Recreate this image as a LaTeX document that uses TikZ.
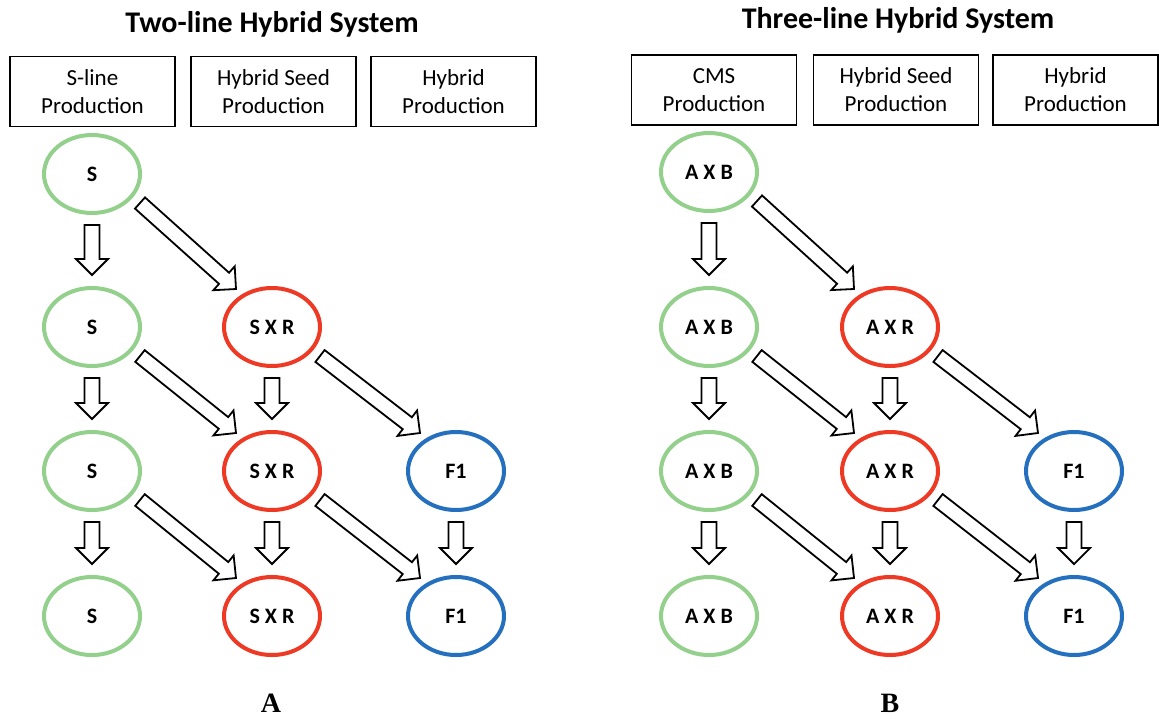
\documentclass[tikz,border=0pt]{standalone}
\usepackage{fontspec}
\setmainfont{Carlito}
\newfontfamily\serifletter{Liberation Serif}
\usetikzlibrary{calc,shapes.geometric}

\definecolor{sgreen}{RGB}{146,208,140}
\definecolor{sred}{RGB}{238,58,36}
\definecolor{sblue}{RGB}{36,112,190}

\tikzset{
  hdr/.style={draw=black, line width=1.5pt, minimum width=165pt, minimum height=70pt,
    inner sep=0pt, align=center, font=\fontsize{23}{28}\selectfont},
  ttl/.style={font=\fontsize{30}{34}\selectfont\bfseries},
  oval/.style={ellipse, line width=4pt, minimum width=96pt, minimum height=78pt,
    inner sep=0pt, font=\fontsize{22}{26}\selectfont\bfseries},
  gr/.style={oval, draw=sgreen},
  rd/.style={oval, draw=sred},
  bl/.style={oval, draw=sblue},
  barrow/.style={draw=black, line width=1.8pt, fill=white, line join=miter},
  letter/.style={anchor=base, font=\fontsize{28}{32}\selectfont\serifletter\bfseries},
}

% block arrow from #1 to #2 (tip at #2)
\newcommand{\barrow}[2]{%
  \draw[barrow] let \p1=(#1), \p2=(#2),
     \n1={atan2(\y2-\y1,\x2-\x1)}, \n2={veclen(\x2-\x1,\y2-\y1)-16} in
    ($(\p1)+(\n1+90:7.5pt)$) -- ($(\p1)+(\n1:\n2)+(\n1+90:7.5pt)$)
    -- ($(\p1)+(\n1:\n2)+(\n1+90:16pt)$) -- (\p2)
    -- ($(\p1)+(\n1:\n2)+(\n1-90:16pt)$) -- ($(\p1)+(\n1:\n2)+(\n1-90:7.5pt)$)
    -- ($(\p1)+(\n1-90:7.5pt)$) -- cycle;}
\newcommand{\vbarrow}[2]{\barrow{$(#1.south)+(0,10)$}{$(#2.north)+(0,-11)$}}
\newcommand{\dbarrow}[2]{\barrow{$(#1)+(48,29)$}{$(#2)+(-36,-38)$}}

\begin{document}
\begin{tikzpicture}[x=1pt, y=-1pt]
\useasboundingbox (0,0) rectangle (1159,718);
\fill[white] (0,0) rectangle (1159,718);

% ---------- Left panel ----------
\node[ttl] (ltitle) at (272,24) {Two-line Hybrid System};
\node[hdr] (lh1) at (92.5,91.5) {S-line\\Production};
\node[hdr] (lh2) at (273.5,91.5) {Hybrid Seed\\Production};
\node[hdr] (lh3) at (453.5,91.5) {Hybrid\\Production};

\node[gr] (lA1) at (92,174) {S};
\node[gr] (lA2) at (92,327) {S};
\node[gr] (lA3) at (92,471) {S};
\node[gr] (lA4) at (92,616) {S};
\node[rd] (lB2) at (272,327) {S X R};
\node[rd] (lB3) at (272,471) {S X R};
\node[rd] (lB4) at (272,616) {S X R};
\node[bl] (lC3) at (456,471) {F1};
\node[bl] (lC4) at (456,616) {F1};

\vbarrow{lA1}{lA2}
\vbarrow{lA2}{lA3}
\vbarrow{lA3}{lA4}
\vbarrow{lB2}{lB3}
\vbarrow{lB3}{lB4}
\vbarrow{lC3}{lC4}
\dbarrow{lA1}{lB2}
\dbarrow{lA2}{lB3}
\dbarrow{lA3}{lB4}
\dbarrow{lB2}{lC3}
\dbarrow{lB3}{lC4}

\node[letter] (la) at (271,712) {A};

% ---------- Right panel ----------
\node[ttl] (rtitle) at (898,20) {Three-line Hybrid System};
\node[hdr] (rh1) at (714,90) {CMS\\Production};
\node[hdr] (rh2) at (896,90) {Hybrid Seed\\Production};
\node[hdr] (rh3) at (1075.5,90) {Hybrid\\Production};

\node[gr] (rA1) at (709,172) {A X B};
\node[gr] (rA2) at (709,327) {A X B};
\node[gr] (rA3) at (709,471) {A X B};
\node[gr] (rA4) at (709,616) {A X B};
\node[rd] (rB2) at (890,327) {A X R};
\node[rd] (rB3) at (890,471) {A X R};
\node[rd] (rB4) at (890,616) {A X R};
\node[bl] (rC3) at (1074,471) {F1};
\node[bl] (rC4) at (1074,616) {F1};

\vbarrow{rA1}{rA2}
\vbarrow{rA2}{rA3}
\vbarrow{rA3}{rA4}
\vbarrow{rB2}{rB3}
\vbarrow{rB3}{rB4}
\vbarrow{rC3}{rC4}
\dbarrow{rA1}{rB2}
\dbarrow{rA2}{rB3}
\dbarrow{rA3}{rB4}
\dbarrow{rB2}{rC3}
\dbarrow{rB3}{rC4}

\node[letter] (rb) at (890,712) {B};
\end{tikzpicture}
\end{document}
